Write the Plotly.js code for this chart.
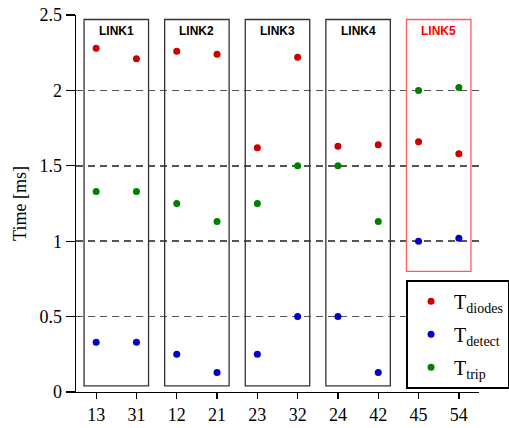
<!DOCTYPE html>
<html>
<head>
<meta charset="utf-8">
<script src="https://cdn.plot.ly/plotly-3.0.1.min.js"></script>
<style>html,body{margin:0;padding:0;background:#fff;}#chart{width:509px;height:428px;}</style>
</head>
<body>
<div id="chart"></div>
<script>
const categories = ["13","31","12","21","23","32","24","42","45","54"];
const tDiodes = [2.28, 2.21, 2.26, 2.24, 1.62, 2.22, 1.63, 1.64, 1.66, 1.58];
const tDetect = [0.33, 0.33, 0.25, 0.13, 0.25, 0.50, 0.50, 0.13, 1.00, 1.02];
const tTrip   = [1.33, 1.33, 1.25, 1.13, 1.25, 1.50, 1.50, 1.13, 2.00, 2.02];
const linkNames = ["LINK1","LINK2","LINK3","LINK4","LINK5"];
const yTicks = [0, 0.5, 1, 1.5, 2, 2.5];

const serif = "'Liberation Serif', 'Times New Roman', serif";
const sans = "'Liberation Sans', Arial, sans-serif";

function mk(name, y, color, grp) {
  return {
    type: "scatter", mode: "markers", x: categories, y: y, name: name,
    legendgroup: grp,
    marker: {color: color, size: 7},
    cliponaxis: false
  };
}
const data = [
  mk("T<sub>diodes</sub>", tDiodes, "#cc0000", "a"),
  mk("T<sub>detect</sub>", tDetect, "#0000cc", "b"),
  mk("T<sub>trip</sub>", tTrip, "#008000", "c")
];

const shapes = [];
const annotations = [];
linkNames.forEach((nm, i) => {
  const isRed = i === 4;
  const c0 = 2 * i, c1 = 2 * i + 1;
  shapes.push({
    type: "rect", xref: "x", yref: "y",
    x0: c0 - 0.3, x1: c1 + 0.3, y0: isRed ? 0.8 : 0.04, y1: 2.47,
    line: {color: isRed ? "#ff5c5c" : "#333333", width: 1.3},
    fillcolor: "rgba(0,0,0,0)", layer: "above"
  });
  annotations.push({
    xref: "x", yref: "y", x: (c0 + c1) / 2, y: 2.395,
    text: "<b>" + nm + "</b>", showarrow: false,
    font: {family: sans, size: 12, color: isRed ? "#ff0000" : "#000000"}
  });
});

const layout = {
  width: 509, height: 428,
  margin: {l: 76, r: 30, t: 15, b: 36, pad: 0, autoexpand: false},
  paper_bgcolor: "#ffffff", plot_bgcolor: "#ffffff",
  showlegend: true,
  legend: {
    x: 0.819, y: 0.298, xanchor: "left", yanchor: "top",
    bgcolor: "#ffffff", bordercolor: "#000000", borderwidth: 2,
    font: {family: serif, size: 20, color: "#000"},
    tracegroupgap: 4, traceorder: "grouped", itemwidth: 36
  },
  xaxis: {
    type: "category", range: [-0.5, 9.5],
    showline: true, linecolor: "#000", linewidth: 1.3,
    ticks: "outside", ticklen: 6, tickcolor: "#000", tickwidth: 1.3,
    showgrid: false, zeroline: false,
    tickfont: {family: serif, size: 18, color: "#000"}
  },
  yaxis: {
    range: [0, 2.5], tickvals: yTicks,
    ticktext: yTicks.map(v => String(v)),
    showline: true, linecolor: "#000", linewidth: 1.3,
    ticks: "outside", ticklen: 9, tickcolor: "#000", tickwidth: 1.3,
    showgrid: true, gridcolor: "#555555", gridwidth: 1.5, griddash: "7px,5px",
    zeroline: false,
    tickfont: {family: serif, size: 18, color: "#000"},
    title: {text: "Time [ms]", font: {family: serif, size: 18, color: "#000"}, standoff: 8}
  },
  shapes: shapes,
  annotations: annotations
};

Plotly.newPlot("chart", data, layout, {displayModeBar: false, staticPlot: true});
</script>
</body>
</html>
